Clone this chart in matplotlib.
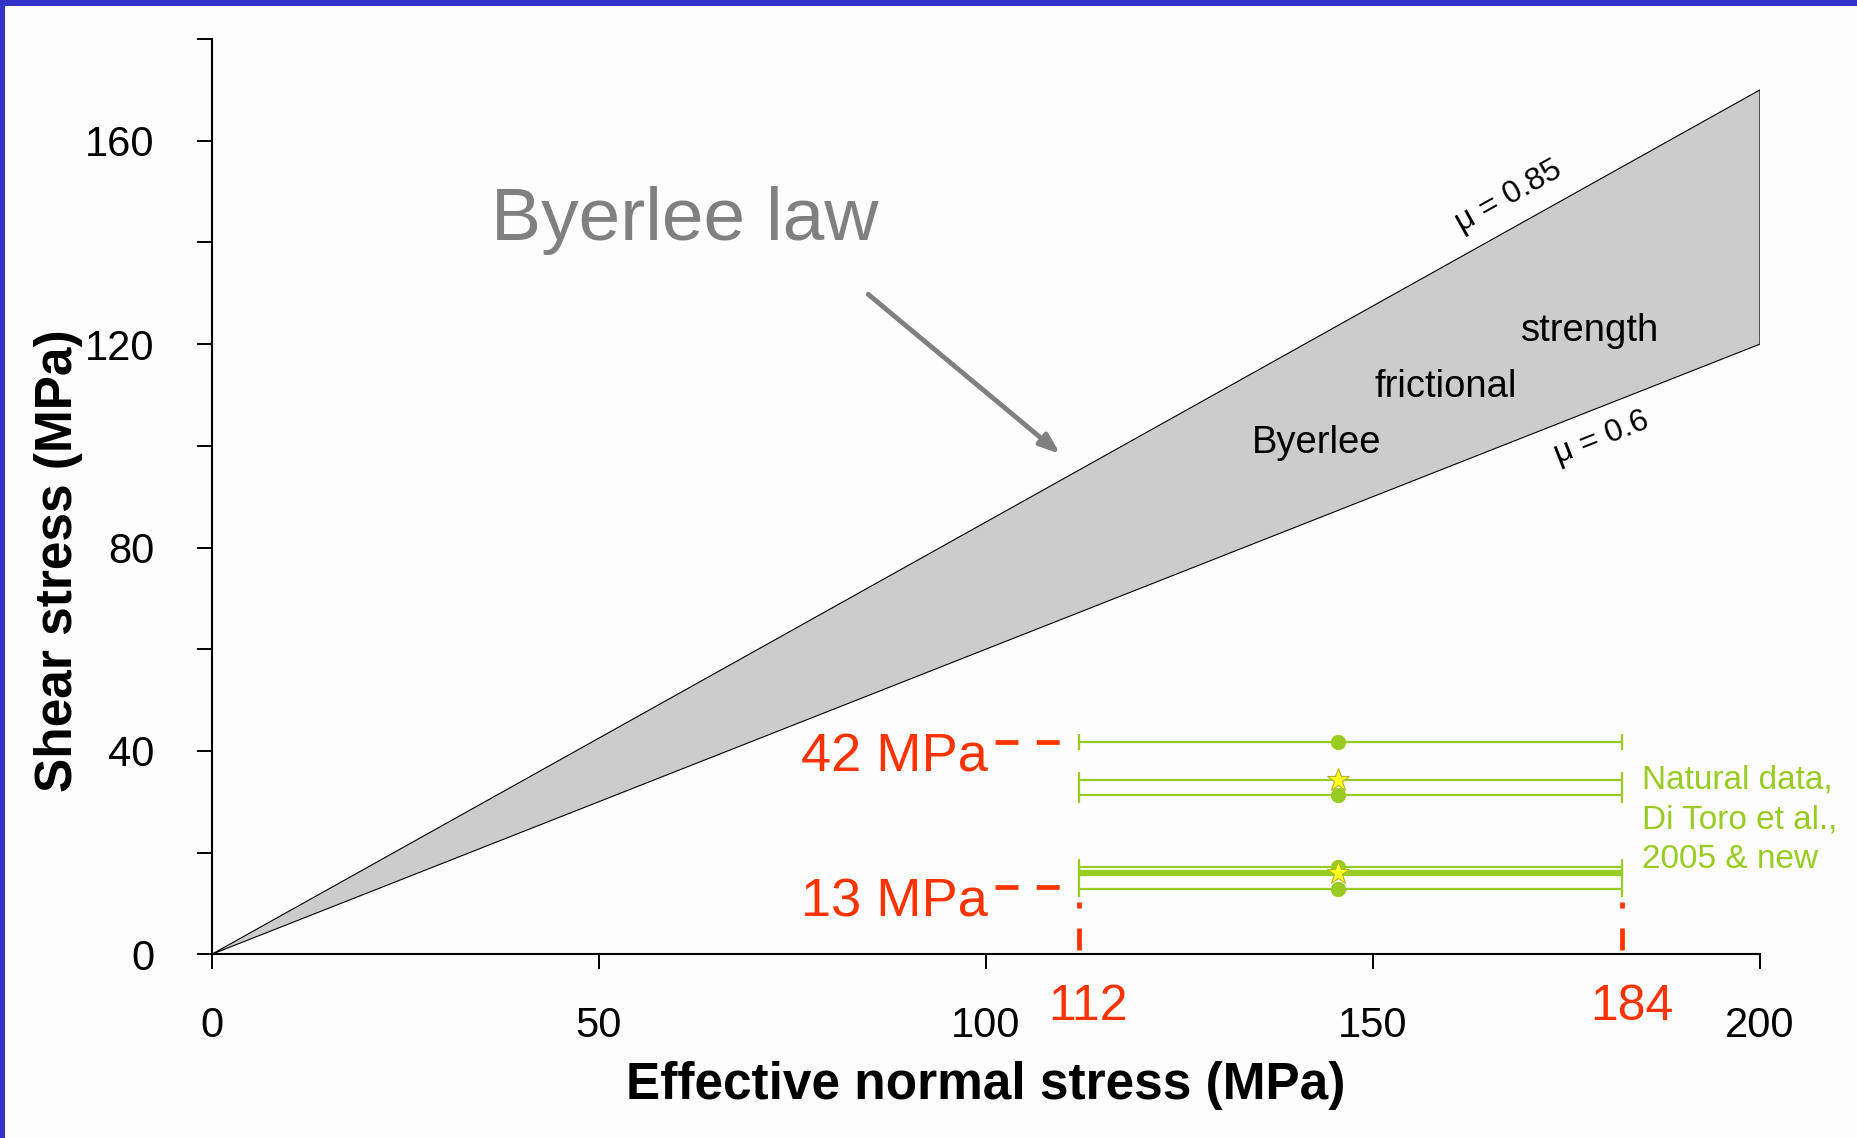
import matplotlib

matplotlib.use("Agg")

import matplotlib.pyplot as plt
from matplotlib.patches import Polygon, Rectangle


# Byerlee friction envelope
MU_HIGH = 0.85
MU_LOW = 0.6
SIGMA_MAX = 200.0

# natural data (shear stress levels)
NATURAL_TAU = [41.7, 34.3, 31.3, 17.2, 15.9, 12.8]
NATURAL_MARKERS = ["o", "*", "o", "o", "*", "o"]
NATURAL_SIGMA_CENTER = 145.5
SIGMA_RANGE = [112.0, 182.2]
SIGMA_RANGE_LABELS = ["112", "184"]
TAU_LEVELS = [41.7, 13.3]
TAU_LABELS = ["42 MPa", "13 MPa"]

X_TICKS = [0, 50, 100, 150, 200]
Y_TICKS = [0, 20, 40, 60, 80, 100, 120, 140, 160, 180]
Y_TICK_LABELS = ["0", "", "40", "", "80", "", "120", "", "160", ""]

GREEN = "#99CC22"
RED = "#FF3300"
GREY_TEXT = "#808080"

plt.rcParams["font.family"] = ["Liberation Sans", "DejaVu Sans"]
plt.rcParams["lines.scale_dashes"] = False


def draw_envelope(ax):
    poly = Polygon(
        [(0, 0), (SIGMA_MAX, MU_HIGH * SIGMA_MAX), (SIGMA_MAX, MU_LOW * SIGMA_MAX)],
        closed=True,
        facecolor="#CCCCCC",
        edgecolor="black",
        linewidth=0.8,
        zorder=1,
    )
    ax.add_patch(poly)

    ax.text(167.5, 149.1, "\u03bc = 0.85", fontsize=23, rotation=29.2,
            rotation_mode="anchor", ha="center", va="center")
    ax.text(179.6, 101.5, "\u03bc = 0.6", fontsize=23, rotation=21.5,
            rotation_mode="anchor", ha="center", va="center")

    ax.text(142.7, 98.6, "Byerlee", fontsize=27.5, ha="center", va="baseline")
    ax.text(159.4, 109.6, "frictional", fontsize=27.5, ha="center", va="baseline")
    ax.text(178.0, 120.6, "strength", fontsize=27.5, ha="center", va="baseline")

    ax.text(36.1, 140.5, "Byerlee law", fontsize=54, color=GREY_TEXT,
            ha="left", va="baseline")
    ax.annotate(
        "",
        xy=(109.6, 98.4),
        xytext=(84.8, 129.8),
        arrowprops=dict(arrowstyle="-|>,head_length=1.2,head_width=0.45",
                        color=GREY_TEXT, linewidth=3.5, shrinkA=0, shrinkB=0),
    )


def draw_natural_data(ax):
    lo, hi = SIGMA_RANGE
    c = NATURAL_SIGMA_CENTER
    for i, (tau, mk) in enumerate(zip(NATURAL_TAU, NATURAL_MARKERS)):
        lw = 4.5 if i == 4 else 1.6
        ax.errorbar(
            c, tau, xerr=[[c - lo], [hi - c]],
            fmt="none", ecolor=GREEN, elinewidth=lw, capsize=5.8, capthick=1.6,
            zorder=3,
        )
        if mk == "o":
            ax.plot(c, tau, "o", color=GREEN, markersize=10, zorder=4)
        else:
            ax.plot(c, tau, "*", markerfacecolor="#FFFF22",
                    markeredgecolor="#B5B520", markeredgewidth=0.8,
                    markersize=17, zorder=5)

    ax.text(184.8, 26.4, "Natural data,\nDi Toro et al.,\n2005 & new",
            fontsize=24, color=GREEN, ha="left", va="center", linespacing=1.36)

    # red guide lines and labels
    for tau, label in zip(TAU_LEVELS, TAU_LABELS):
        ax.plot([101.2, 110.2], [tau, tau], color=RED, linewidth=3.4,
                linestyle=(0, (16.5, 13.2)), dash_capstyle="butt", zorder=3)
        ax.text(100.2, tau - 5.8, label, fontsize=39, color=RED,
                ha="right", va="baseline")
    for x, label in zip(SIGMA_RANGE, SIGMA_RANGE_LABELS):
        ax.plot([x, x], [0.85, 10.3], color=RED, linewidth=3.4,
                linestyle=(0, (15.8, 14.4)), dash_capstyle="butt", zorder=3)
        ax.text(x + 1.2, -10.4, label, fontsize=36, color=RED,
                ha="center", va="center", clip_on=False)


def main():
    fig = plt.figure(figsize=(18.58, 11.38), dpi=100, facecolor="#FDFDFD")
    ax = fig.add_axes([0.11394, 0.16142, 0.8333, 0.8043])
    ax.set_facecolor("#FDFDFD")

    draw_envelope(ax)
    draw_natural_data(ax)

    ax.set_xlim(0, 200)
    ax.set_ylim(0, 180)
    ax.set_xticks(X_TICKS)
    ax.set_yticks(Y_TICKS, Y_TICK_LABELS)
    ax.tick_params(axis="x", direction="out", length=11, width=1.4,
                   labelsize=30, pad=26)
    ax.tick_params(axis="y", direction="out", length=11, width=1.4,
                   labelsize=30, pad=30)
    ax.spines[["top", "right"]].set_visible(False)
    ax.spines[["left", "bottom"]].set_linewidth(1.5)

    ax.set_xlabel("Effective normal stress (MPa)", fontsize=37, fontweight="bold")
    ax.set_ylabel("Shear stress (MPa)", fontsize=37, fontweight="bold")
    ax.xaxis.set_label_coords(0.5, -0.117)
    ax.yaxis.set_label_coords(-0.083, 0.43)

    # slide frame (blue band on left and top)
    fig.patches.append(Rectangle((0, 0), 5 / 1858, 1, transform=fig.transFigure,
                                 facecolor="#3333CC", edgecolor="none"))
    fig.patches.append(Rectangle((0, 1 - 6 / 1138), 1, 6 / 1138,
                                 transform=fig.transFigure,
                                 facecolor="#3333CC", edgecolor="none"))

    fig.savefig("out.png", dpi=100, facecolor=fig.get_facecolor())
    plt.close(fig)


if __name__ == "__main__":
    main()
